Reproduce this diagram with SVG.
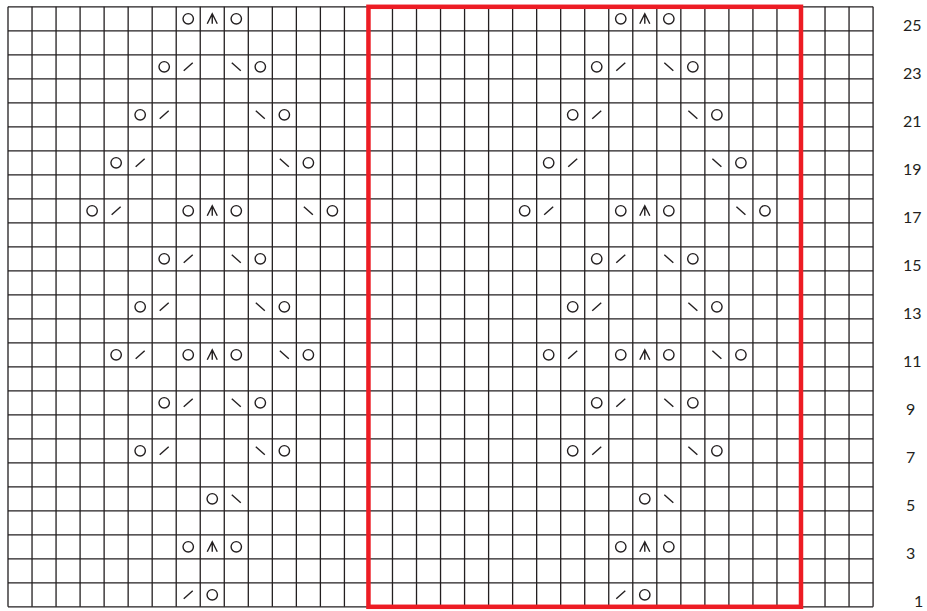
<svg xmlns="http://www.w3.org/2000/svg" xmlns:xlink="http://www.w3.org/1999/xlink" width="927" height="611" viewBox="0 0 927 611">
<style>
.grid{fill:none;stroke:#231f20;stroke-width:1.3}
.sym{fill:none;stroke:#231f20;stroke-width:1.4;stroke-linecap:butt}
.frame{fill:none;stroke:#ed1c24;stroke-width:4.5}
.lbl{font-family:"Lato","Liberation Sans",sans-serif;font-size:16px;fill:#231f20}
</style>
<defs>
<circle id="yo" class="sym" r="5.2"/>
<path id="k2tog" class="sym" d="M-4.5,4 L4.5,-4"/>
<path id="ssk" class="sym" d="M-4.5,-4 L4.5,4"/>
<path id="cdd" class="sym" d="M-5,5 L0,-5 L5,5 M0,-5 V5"/>
<g id="motif">
<!-- row 25 -->
<use href="#yo" x="188.23" y="18.8"/><use href="#cdd" x="212.25" y="18.8"/><use href="#yo" x="236.28" y="18.8"/>
<!-- row 23 -->
<use href="#yo" x="164.19" y="66.8"/><use href="#k2tog" x="188.23" y="66.8"/><use href="#ssk" x="236.28" y="66.8"/><use href="#yo" x="260.31" y="66.8"/>
<!-- row 21 -->
<use href="#yo" x="140.17" y="114.8"/><use href="#k2tog" x="164.19" y="114.8"/><use href="#ssk" x="260.31" y="114.8"/><use href="#yo" x="284.34" y="114.8"/>
<!-- row 19 -->
<use href="#yo" x="116.14" y="162.8"/><use href="#k2tog" x="140.17" y="162.8"/><use href="#ssk" x="284.34" y="162.8"/><use href="#yo" x="308.37" y="162.8"/>
<!-- row 17 -->
<use href="#yo" x="92.11" y="210.8"/><use href="#k2tog" x="116.14" y="210.8"/><use href="#yo" x="188.23" y="210.8"/><use href="#cdd" x="212.25" y="210.8"/><use href="#yo" x="236.28" y="210.8"/><use href="#ssk" x="308.37" y="210.8"/><use href="#yo" x="332.4" y="210.8"/>
<!-- row 15 -->
<use href="#yo" x="164.19" y="258.8"/><use href="#k2tog" x="188.23" y="258.8"/><use href="#ssk" x="236.28" y="258.8"/><use href="#yo" x="260.31" y="258.8"/>
<!-- row 13 -->
<use href="#yo" x="140.17" y="306.8"/><use href="#k2tog" x="164.19" y="306.8"/><use href="#ssk" x="260.31" y="306.8"/><use href="#yo" x="284.34" y="306.8"/>
<!-- row 11 -->
<use href="#yo" x="116.14" y="354.8"/><use href="#k2tog" x="140.17" y="354.8"/><use href="#yo" x="188.23" y="354.8"/><use href="#cdd" x="212.25" y="354.8"/><use href="#yo" x="236.28" y="354.8"/><use href="#ssk" x="284.34" y="354.8"/><use href="#yo" x="308.37" y="354.8"/>
<!-- row 9 -->
<use href="#yo" x="164.19" y="402.8"/><use href="#k2tog" x="188.23" y="402.8"/><use href="#ssk" x="236.28" y="402.8"/><use href="#yo" x="260.31" y="402.8"/>
<!-- row 7 -->
<use href="#yo" x="140.17" y="450.8"/><use href="#k2tog" x="164.19" y="450.8"/><use href="#ssk" x="260.31" y="450.8"/><use href="#yo" x="284.34" y="450.8"/>
<!-- row 5 -->
<use href="#yo" x="212.25" y="498.8"/><use href="#ssk" x="236.28" y="498.8"/>
<!-- row 3 -->
<use href="#yo" x="188.23" y="546.8"/><use href="#cdd" x="212.25" y="546.8"/><use href="#yo" x="236.28" y="546.8"/>
<!-- row 1 -->
<use href="#k2tog" x="188.23" y="594.8"/><use href="#yo" x="212.25" y="594.8"/>
</g>
</defs>
<rect width="927" height="611" fill="#ffffff"/>
<g id="grid">
<path class="grid" d="M8,6.8V606.8M32.03,6.8V606.8M56.06,6.8V606.8M80.09,6.8V606.8M104.12,6.8V606.8M128.15,6.8V606.8M152.18,6.8V606.8M176.21,6.8V606.8M200.24,6.8V606.8M224.27,6.8V606.8M248.3,6.8V606.8M272.33,6.8V606.8M296.36,6.8V606.8M320.39,6.8V606.8M344.42,6.8V606.8M368.45,6.8V606.8M392.48,6.8V606.8M416.51,6.8V606.8M440.54,6.8V606.8M464.57,6.8V606.8M488.6,6.8V606.8M512.63,6.8V606.8M536.66,6.8V606.8M560.69,6.8V606.8M584.72,6.8V606.8M608.75,6.8V606.8M632.78,6.8V606.8M656.81,6.8V606.8M680.84,6.8V606.8M704.87,6.8V606.8M728.9,6.8V606.8M752.93,6.8V606.8M776.96,6.8V606.8M800.99,6.8V606.8M825.02,6.8V606.8M849.05,6.8V606.8M873.08,6.8V606.8"/>
<path class="grid" d="M8,6.8H873.08M8,30.8H873.08M8,54.8H873.08M8,78.8H873.08M8,102.8H873.08M8,126.8H873.08M8,150.8H873.08M8,174.8H873.08M8,198.8H873.08M8,222.8H873.08M8,246.8H873.08M8,270.8H873.08M8,294.8H873.08M8,318.8H873.08M8,342.8H873.08M8,366.8H873.08M8,390.8H873.08M8,414.8H873.08M8,438.8H873.08M8,462.8H873.08M8,486.8H873.08M8,510.8H873.08M8,534.8H873.08M8,558.8H873.08M8,582.8H873.08M8,606.8H873.08"/>
</g>
<g id="symbols-left"><use href="#motif"/></g>
<g id="symbols-right"><use href="#motif" x="432.54"/></g>
<g id="repeat-frame"><rect class="frame" x="368.45" y="6.8" width="432.54" height="600"/></g>
<g id="row-numbers" class="lbl">
<text x="903" y="30.8">25</text>
<text x="903" y="78.8">23</text>
<text x="903" y="126.8">21</text>
<text x="903" y="174.8">19</text>
<text x="903" y="222.8">17</text>
<text x="903" y="270.8">15</text>
<text x="903" y="318.8">13</text>
<text x="903" y="366.8">11</text>
<text x="906" y="414.8">9</text>
<text x="906" y="462.8">7</text>
<text x="906" y="510.8">5</text>
<text x="906" y="558.8">3</text>
<text x="914" y="606.8">1</text>
</g>
</svg>
